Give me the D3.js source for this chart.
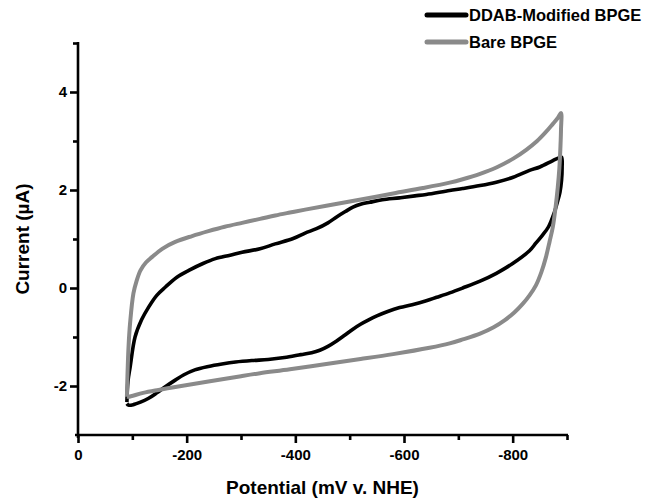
<!DOCTYPE html>
<html>
<head>
<meta charset="utf-8">
<script src="https://cdn.jsdelivr.net/npm/d3@7"></script>
<style>
  body { margin: 0; background: #fff; }
  text { font-family: "Liberation Sans", Arial, sans-serif; font-weight: bold; fill: #000; }
</style>
</head>
<body>
<div id="chart"></div>
<script>
// potentials in mV v. NHE, currents in µA (one closed CV loop each)
const ddabPotential = [
  -90, -92, -96, -105, -117, -130, -145, -161, -182, -204, -230, -253, -280, -302, -335, -363,
  -396, -418, -439, -460, -476, -492, -506, -520, -537, -560, -592, -620, -641, -684, -708, -740,
  -770, -801, -831, -850, -874, -886, -890,
  -891, -890, -887, -883, -876, -866, -855, -843, -831, -800, -770, -740, -708, -684, -660, -641,
  -615, -592, -570, -550, -535, -520, -506, -490, -476, -460, -445, -430, -410, -380, -350, -320,
  -290, -265, -240, -215, -195, -179, -160, -145, -130, -115, -102, -93, -90
];
const ddabCurrent = [
  -2.33, -1.9, -1.61, -1.0, -0.65, -0.39, -0.15, 0.02, 0.22, 0.36, 0.50, 0.60, 0.67, 0.73, 0.80, 0.90,
  1.01, 1.12, 1.21, 1.33, 1.45, 1.56, 1.65, 1.71, 1.75, 1.80, 1.84, 1.88, 1.91, 1.99, 2.03, 2.09,
  2.16, 2.26, 2.40, 2.47, 2.60, 2.66, 2.67,
  2.45, 2.2, 1.95, 1.78, 1.52, 1.25, 1.08, 0.92, 0.76, 0.50, 0.30, 0.14, 0.0, -0.10, -0.19, -0.26,
  -0.34, -0.40, -0.48, -0.57, -0.65, -0.74, -0.84, -0.97, -1.08, -1.19, -1.27, -1.32, -1.36, -1.42, -1.46, -1.48,
  -1.51, -1.55, -1.60, -1.67, -1.77, -1.88, -2.02, -2.14, -2.25, -2.33, -2.38, -2.39, -2.36
];
const barePotential = [
  -90, -91, -93, -96, -102, -108, -115, -125, -136, -155, -179, -210, -240, -270, -302, -335,
  -363, -390, -418, -457, -513, -580, -635, -684, -708, -740, -770, -801, -825, -845, -860, -874,
  -883, -889,
  -889, -888, -886, -883, -879, -874, -868, -861, -853, -843, -831, -818, -803, -785, -765, -740,
  -708, -684, -647, -580, -520, -457, -390, -335, -300, -240, -190, -148, -120, -93, -90
];
const bareCurrent = [
  -2.22, -1.8, -1.2, -0.7, -0.11, 0.15, 0.36, 0.52, 0.63, 0.80, 0.94, 1.06, 1.16, 1.25, 1.33, 1.41,
  1.48, 1.54, 1.60, 1.68, 1.79, 1.93, 2.04, 2.15, 2.22, 2.33, 2.46, 2.64, 2.82, 3.00, 3.17, 3.35,
  3.47, 3.57,
  3.25, 2.9, 2.45, 2.05, 1.65, 1.25, 0.95, 0.62, 0.33, 0.06, -0.15, -0.33, -0.50, -0.66, -0.80, -0.93,
  -1.05, -1.13, -1.22, -1.35, -1.45, -1.55, -1.66, -1.74, -1.80, -1.91, -2.00, -2.08, -2.14, -2.22, -2.22
];

const xMajorTicks = [0, -200, -400, -600, -800];
const xMinorTicks = [-100, -300, -500, -700, -900];
const yMajorTicks = [-2, 0, 2, 4];
const yMinorTicks = [-1, 1, 3, 5];

const seriesNames = ["DDAB-Modified BPGE", "Bare BPGE"];
const seriesColors = ["#000000", "#8a8a8a"];

const width = 646, height = 500;
const svg = d3.select("#chart").append("svg")
  .attr("width", width)
  .attr("height", height);

const x = d3.scaleLinear().domain([0, -900]).range([78, 567]);
const y = d3.scaleLinear().domain([-3, 5]).range([435, 43]);

const line = d3.line()
  .x(d => x(d[0]))
  .y(d => y(d[1]))
  .curve(d3.curveCatmullRom.alpha(0.5));

const loops = [
  d3.zip(ddabPotential, ddabCurrent),
  d3.zip(barePotential, bareCurrent)
];

loops.forEach((pts, i) => {
  svg.append("path")
    .datum(pts)
    .attr("fill", "none")
    .attr("stroke", seriesColors[i])
    .attr("stroke-width", i === 0 ? 3.6 : 4)
    .attr("stroke-linejoin", "round")
    .attr("d", line);
});

// axes
function styleAxis(g) {
  g.select(".domain").attr("stroke-width", 2.6);
  g.selectAll(".tick line").attr("stroke-width", 2.6);
  g.selectAll(".tick text").attr("font-size", "15px");
}

const fmt = d => String(d);

svg.append("g")
  .attr("transform", `translate(0,${y(-3)})`)
  .call(d3.axisBottom(x).tickValues(xMinorTicks).tickSize(5).tickFormat(""))
  .call(styleAxis)
  .call(g => g.select(".domain").attr("d", `M${x(0) - 3},0H${x(-900) + 1}`));

svg.append("g")
  .attr("transform", `translate(0,${y(-3)})`)
  .call(d3.axisBottom(x).tickValues(xMajorTicks).tickSize(8).tickPadding(6).tickFormat(fmt))
  .call(styleAxis)
  .call(g => g.select(".domain").remove());

svg.append("g")
  .attr("transform", `translate(${x(0)},0)`)
  .call(d3.axisLeft(y).tickValues(yMinorTicks).tickSize(5).tickFormat(""))
  .call(styleAxis)
  .call(g => g.select(".domain").attr("d", `M0,${y(-3) + 3}V${y(5) - 1}`));

svg.append("g")
  .attr("transform", `translate(${x(0)},0)`)
  .call(d3.axisLeft(y).tickValues(yMajorTicks).tickSize(8).tickPadding(3).tickFormat(fmt))
  .call(styleAxis)
  .call(g => g.select(".domain").remove());

// axis titles
svg.append("text")
  .attr("x", (x(0) + x(-900)) / 2)
  .attr("y", 494)
  .attr("text-anchor", "middle")
  .attr("font-size", "19px")
  .text("Potential (mV v. NHE)");

svg.append("text")
  .attr("transform", `translate(29,${(y(-3) + y(5)) / 2}) rotate(-90)`)
  .attr("text-anchor", "middle")
  .attr("font-size", "19px")
  .text("Current (\u00b5A)");

// legend
const legend = svg.append("g").attr("transform", "translate(426,15)");
seriesNames.forEach((name, i) => {
  const row = legend.append("g").attr("transform", `translate(0,${i * 27})`);
  row.append("line")
    .attr("x1", 1).attr("x2", 40)
    .attr("stroke", seriesColors[i])
    .attr("stroke-width", 5)
    .attr("stroke-linecap", "round");
  row.append("text")
    .attr("x", 43)
    .attr("dy", "0.36em")
    .attr("font-size", "16.5px")
    .text(name);
});
</script>
</body>
</html>
